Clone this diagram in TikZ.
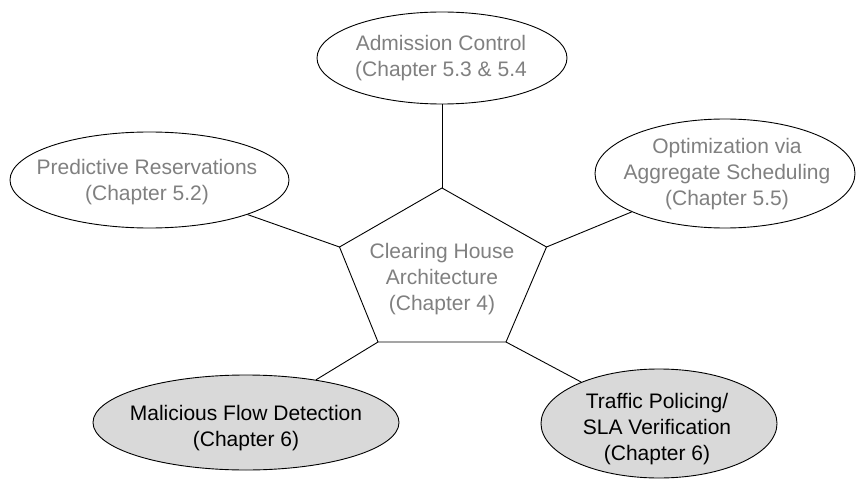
\documentclass[tikz,border=0pt]{standalone}
\usepackage{fontspec}
\setmainfont{Liberation Sans}
\usetikzlibrary{shapes.geometric}
\definecolor{txtgray}{HTML}{808080}
\definecolor{fillgray}{HTML}{D9D9D9}
\begin{document}
\begin{tikzpicture}[x=1pt,y=-1pt,
  oval/.style={draw=black, line width=0.9pt, ellipse, inner sep=0pt},
  lbl/.style={align=center, inner sep=0pt, font=\fontsize{21}{26}\selectfont},
  conn/.style={draw=black, line width=0.9pt}]
\useasboundingbox (0,0) rectangle (856,481);
% ellipses
\node[oval, fill=white, minimum width=250pt, minimum height=92pt] (adm) at (442,58) {};
\node[oval, fill=white, minimum width=279pt, minimum height=96pt] (pred) at (149.5,180) {};
\node[oval, fill=white, minimum width=260pt, minimum height=109pt] (opt) at (725,173.5) {};
\node[oval, fill=fillgray, minimum width=306pt, minimum height=95pt] (mal) at (246,422.5) {};
\node[oval, fill=fillgray, minimum width=236pt, minimum height=109pt] (traf) at (659,423.5) {};
% pentagon
\coordinate (pT) at (442,188);
\coordinate (pR) at (546.5,247);
\coordinate (pBR) at (506,342);
\coordinate (pBL) at (378,342);
\coordinate (pL) at (339.5,247);
\draw[line width=0.9pt, fill=white] (pT) -- (pR) -- (pBR) -- (pBL) -- (pL) -- cycle;
% texts
\node[lbl, text=txtgray] (admT) at (441,58) {Admission Control\\(Chapter 5.3 \& 5.4};
\node[lbl, text=txtgray] (predT) at (147,182) {Predictive Reservations\\(Chapter 5.2)};
\node[lbl, text=txtgray] (optT) at (727,174) {Optimization via\\Aggregate Scheduling\\(Chapter 5.5)};
\node[lbl, text=txtgray] (chT) at (442,279) {Clearing House\\Architecture\\(Chapter 4)};
\node[lbl, text=black] (malT) at (246,428) {Malicious Flow Detection\\(Chapter 6)};
\node[lbl, text=black] (trafT) at (657,429) {Traffic Policing/\\SLA Verification\\(Chapter 6)};
% connectors
\draw[conn] (pT) -- (adm);
\draw[conn] (pL) -- (pred);
\draw[conn] (pR) -- (opt);
\draw[conn] (pBL) -- (mal);
\draw[conn] (pBR) -- (traf);
\end{tikzpicture}
\end{document}
